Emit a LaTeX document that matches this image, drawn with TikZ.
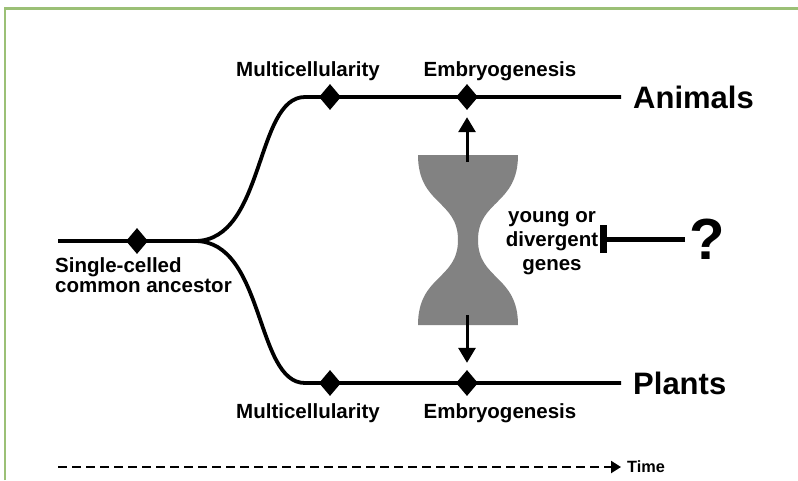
\documentclass[tikz,border=0pt]{standalone}
\usepackage{fontspec}
\setmainfont{Liberation Sans}
\usetikzlibrary{calc,positioning,arrows.meta,shapes.geometric}
\definecolor{framegreen}{RGB}{155,192,118}
\definecolor{sandgray}{RGB}{130,130,130}

\tikzset{
  gem/.style={diamond,fill=black,inner sep=0pt,minimum width=22pt,minimum height=26pt},
  lineage/.style={line width=3.8pt},
  lbl/.style={font=\bfseries\fontsize{20.5}{24}\selectfont,inner sep=0pt},
  taxon/.style={font=\bfseries\fontsize{31}{34}\selectfont,inner sep=0pt},
  pointer/.style={line width=3pt,-{Triangle[width=17pt,length=15pt]}},
}

\begin{document}
\begin{tikzpicture}[x=1pt,y=-1pt]

  \useasboundingbox (0,0) rectangle (798,480);

  % frame, open on the right and at the bottom
  \draw[framegreen,line width=2.5pt] (5,480) -- (5,8.5) -- (798,8.5);

  % ancestor, branch points and the two lineages
  \coordinate (root) at (58,241);
  \coordinate (fork) at (195,241);
  \node [gem] at(137,241) (anc) {};
  \foreach \nm/\x/\y in {mcA/330/97,embA/467/97,mcP/330/383,embP/467/383}{
    \node [gem] at(\x,\y) (\nm) {};
  }
  \coordinate (bendA) at (305,97);
  \coordinate (bendP) at (305,383);
  \coordinate (endA) at (621,97);
  \coordinate (endP) at (621,383);

  \draw[lineage] (root) -- (anc.center) -- (fork);
  \draw[lineage] (fork) .. controls (265,241) and (255,97) .. (bendA) -- (mcA.center) -- (embA.center) -- (endA);
  \draw[lineage] (fork) .. controls (265,241) and (255,383) .. (bendP) -- (mcP.center) -- (embP.center) -- (endP);

  \node [lbl,anchor=base] at(308,76) (mcAlbl) {Multicellularity};
  \node [lbl,anchor=base] at(500,76) (embAlbl) {Embryogenesis};
  \node [lbl,anchor=base] at(308,418) (mcPlbl) {Multicellularity};
  \node [lbl,anchor=base] at(500,418) (embPlbl) {Embryogenesis};

  \node [taxon,anchor=west] at(633,97) (animals) {Animals};
  \node [taxon,anchor=west] at(633,383) (plants) {Plants};

  \node [lbl,font=\bfseries\fontsize{20.5}{20}\selectfont,align=left,anchor=north west] at(55,257) (ancLbl) {Single-celled\\common ancestor};

  % hourglass
  \coordinate (hgT) at (467,155);
  \coordinate (hgB) at (467,325);
  \fill[sandgray] (418,155) -- (518,155)
    .. controls (518,205) and (478,200) .. (478,240)
    .. controls (478,280) and (518,275) .. (518,325)
    -- (418,325)
    .. controls (418,275) and (458,280) .. (458,240)
    .. controls (458,200) and (418,205) .. (418,155) -- cycle;

  \draw[pointer,shorten >=7pt] ([yshift=-7pt]hgT) -- (embA);
  \draw[pointer,shorten >=7pt] ([yshift=10pt]hgB) -- (embP);

  % genes and the question mark
  \node [lbl,align=center,anchor=north] at(552,211) (genes) {young or\\divergent\\genes};
  \node [font=\bfseries\fontsize{58}{60}\selectfont,inner sep=0pt] at(707,239) (qmark) {?};
  \coordinate (barpos) at (600,239);
  \draw[line width=5pt,shorten <=4pt,-{Bar[width=28pt,line width=7pt]}] (qmark.west) -- (barpos);

  % time axis
  \coordinate (t0) at (58,467);
  \node [font=\bfseries\fontsize{16.3}{18}\selectfont,inner sep=0pt,anchor=west] at(627,467) (time) {Time};
  \draw[line width=2.2pt,dash pattern=on 8.5pt off 5.5pt,-{Triangle[width=12pt,length=10pt]}] (t0) -- ([xshift=-6pt]time.west);

\end{tikzpicture}
\end{document}
